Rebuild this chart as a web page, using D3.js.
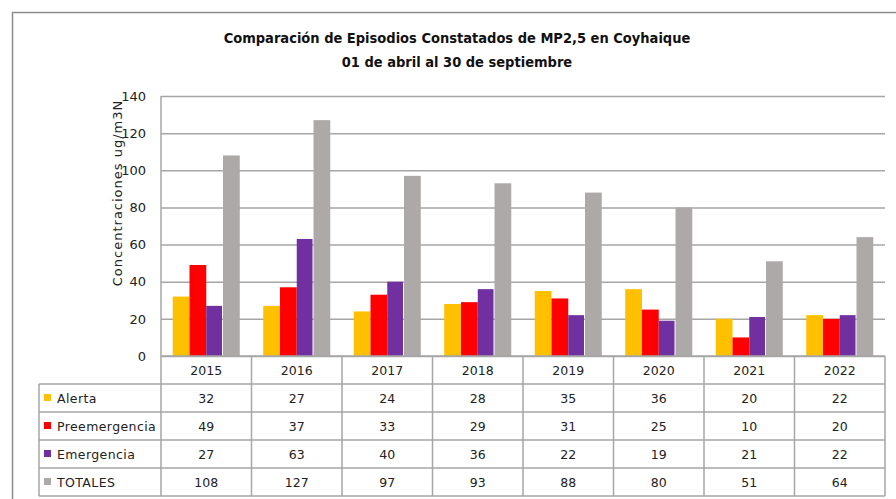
<!DOCTYPE html>
<html>
<head>
<meta charset="utf-8">
<script src="https://cdn.jsdelivr.net/npm/d3@7"></script>
<style>
  body { margin: 0; background: #fff; }
  svg { display: block; }
  .tick text { font-family: "DejaVu Sans", Verdana, sans-serif; }
</style>
</head>
<body>
<svg id="chart" width="896" height="499"></svg>
<script>
// datos
const years = ["2015", "2016", "2017", "2018", "2019", "2020", "2021", "2022"];
const alerta = [32, 27, 24, 28, 35, 36, 20, 22];
const preemergencia = [49, 37, 33, 29, 31, 25, 10, 20];
const emergencia = [27, 63, 40, 36, 22, 19, 21, 22];
const totales = [108, 127, 97, 93, 88, 80, 51, 64];
const seriesNames = ["Alerta", "Preemergencia", "Emergencia", "TOTALES"];
const seriesColors = ["#FFC000", "#FF0000", "#7030A0", "#ADA9A9"];
const yTicks = [0, 20, 40, 60, 80, 100, 120, 140];

const seriesValues = [alerta, preemergencia, emergencia, totales];

const svg = d3.select("#chart");
const plot = { left: 161, right: 885, top: 96, bottom: 356 };
const rowH = 28;
const tableTop = 384;
const legendLeft = 39;

// marco exterior
svg.append("rect")
    .attr("x", 12.5).attr("y", 12.5)
    .attr("width", 896).attr("height", 520)
    .attr("fill", "none")
    .attr("stroke", "#8c8c8c")
    .attr("stroke-width", 1.5);

// titulo
const title = svg.append("text")
    .attr("text-anchor", "middle")
    .attr("font-family", "'DejaVu Sans Condensed', 'Liberation Sans Narrow', sans-serif")
    .attr("font-weight", "bold")
    .attr("font-size", 14.5)
    .attr("fill", "#111");
title.append("tspan").attr("x", 457).attr("y", 43).text("Comparación de Episodios Constatados de MP2,5 en Coyhaique");
title.append("tspan").attr("x", 457).attr("y", 67).text("01 de abril al 30 de septiembre");

const x = d3.scaleBand().domain(years).range([plot.left, plot.right]).padding(0);
const xs = d3.scaleBand().domain(seriesNames).range([0, x.bandwidth()])
    .paddingInner(0).paddingOuter(0.7);
const y = d3.scaleLinear().domain([0, 140]).range([plot.bottom, plot.top]);

// lineas de cuadricula
svg.append("g")
    .attr("transform", `translate(${plot.left},0)`)
    .call(d3.axisLeft(y).tickValues(yTicks).tickSize(-(plot.right - plot.left)).tickFormat(""))
    .call(g => g.select(".domain").remove())
    .call(g => g.selectAll(".tick line").attr("stroke", "#a6a6a6").attr("stroke-width", 1.5));

// etiquetas del eje y
svg.append("g")
    .attr("transform", `translate(${plot.left},0)`)
    .call(d3.axisLeft(y).tickValues(yTicks).tickSize(0).tickPadding(15))
    .call(g => g.select(".domain").remove())
    .call(g => g.selectAll(".tick text").attr("font-size", 13).attr("fill", "#222"));

// barras
seriesNames.forEach((name, si) => {
  svg.append("g").selectAll("rect")
    .data(years.map((yr, i) => ({ yr, v: seriesValues[si][i] })))
    .join("rect")
    .attr("x", d => x(d.yr) + xs(name))
    .attr("y", d => y(d.v))
    .attr("width", xs.bandwidth() - (si === 2 ? 1 : 0))
    .attr("height", d => y(0) - y(d.v))
    .attr("fill", seriesColors[si]);
});

// eje izquierdo
svg.append("line")
    .attr("x1", plot.left).attr("x2", plot.left)
    .attr("y1", plot.top).attr("y2", plot.bottom)
    .attr("stroke", "#a6a6a6").attr("stroke-width", 1.5);

// titulo eje y
svg.append("text")
    .attr("transform", `translate(122,193) rotate(-90)`)
    .attr("text-anchor", "middle")
    .attr("font-family", "'DejaVu Sans', Verdana, sans-serif")
    .attr("font-size", 13)
    .attr("letter-spacing", 1)
    .attr("fill", "#222")
    .text("Concentraciones ug/m3N");

// tabla de datos
const tableBottom = tableTop + rowH * seriesNames.length;
const lineColor = "#a6a6a6";
const grid = svg.append("g").attr("stroke", lineColor).attr("stroke-width", 1.5);

// lineas horizontales
d3.range(seriesNames.length + 1).forEach(i => {
  grid.append("line")
    .attr("x1", legendLeft).attr("x2", plot.right)
    .attr("y1", tableTop + i * rowH).attr("y2", tableTop + i * rowH);
});
// linea base del grafico
grid.append("line")
    .attr("x1", plot.left).attr("x2", plot.right)
    .attr("y1", plot.bottom).attr("y2", plot.bottom);
// lineas verticales
years.forEach(yr => {
  grid.append("line")
    .attr("x1", x(yr)).attr("x2", x(yr))
    .attr("y1", plot.bottom).attr("y2", tableBottom);
});
grid.append("line")
    .attr("x1", plot.right).attr("x2", plot.right)
    .attr("y1", plot.bottom).attr("y2", tableBottom);
grid.append("line")
    .attr("x1", legendLeft).attr("x2", legendLeft)
    .attr("y1", tableTop).attr("y2", tableBottom);

const font = "'DejaVu Sans', Verdana, sans-serif";

// encabezados de anos
svg.append("g").selectAll("text")
  .data(years)
  .join("text")
  .attr("x", d => x(d) + x.bandwidth() / 2)
  .attr("y", plot.bottom + 19)
  .attr("text-anchor", "middle")
  .attr("font-family", font)
  .attr("font-size", 12.5)
  .attr("fill", "#222")
  .text(d => d);

// filas
seriesNames.forEach((name, si) => {
  const rowY = tableTop + si * rowH;
  svg.append("rect")
    .attr("x", 44).attr("y", rowY + 10)
    .attr("width", 7).attr("height", 7)
    .attr("fill", seriesColors[si]);
  svg.append("text")
    .attr("x", 57).attr("y", rowY + 19)
    .attr("font-family", font)
    .attr("font-size", 12.5)
    .attr("letter-spacing", 0.4)
    .attr("fill", "#222")
    .text(name);
  svg.append("g").selectAll("text")
    .data(years.map((yr, i) => ({ yr, v: seriesValues[si][i] })))
    .join("text")
    .attr("x", d => x(d.yr) + x.bandwidth() / 2)
    .attr("y", rowY + 19)
    .attr("text-anchor", "middle")
    .attr("font-family", font)
    .attr("font-size", 12.5)
    .attr("fill", "#222")
    .text(d => d.v);
});
</script>
</body>
</html>
